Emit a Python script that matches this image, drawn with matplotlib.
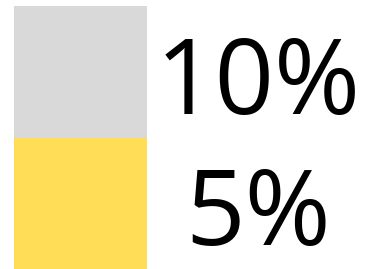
import matplotlib
matplotlib.use("Agg")
import matplotlib.pyplot as plt

# Data
categories = ["5%", "10%"]          # bottom to top
values = [5, 10]
segment_heights = [1, 1]            # segments drawn as equal blocks
colors = ["#FFDD57", "#D9D9D9"]

fig = plt.figure(figsize=(3.77, 2.69), dpi=100)
ax = fig.add_axes([0, 0, 1, 1])

bottom = 0
for lab, v, h, c in zip(categories, values, segment_heights, colors):
    ax.bar(0, h, width=1, bottom=bottom, color=c, edgecolor="none")
    ax.text(1.335, bottom + h / 2 - 0.32, f"{v}%", ha="center", va="baseline",
            fontsize=75, family="Open Sans", color="black")
    bottom += h

ax.set_xlim(-0.605, 2.230)
ax.set_ylim(0, 2.046)
ax.axis("off")
fig.savefig("out.png", dpi=100)
